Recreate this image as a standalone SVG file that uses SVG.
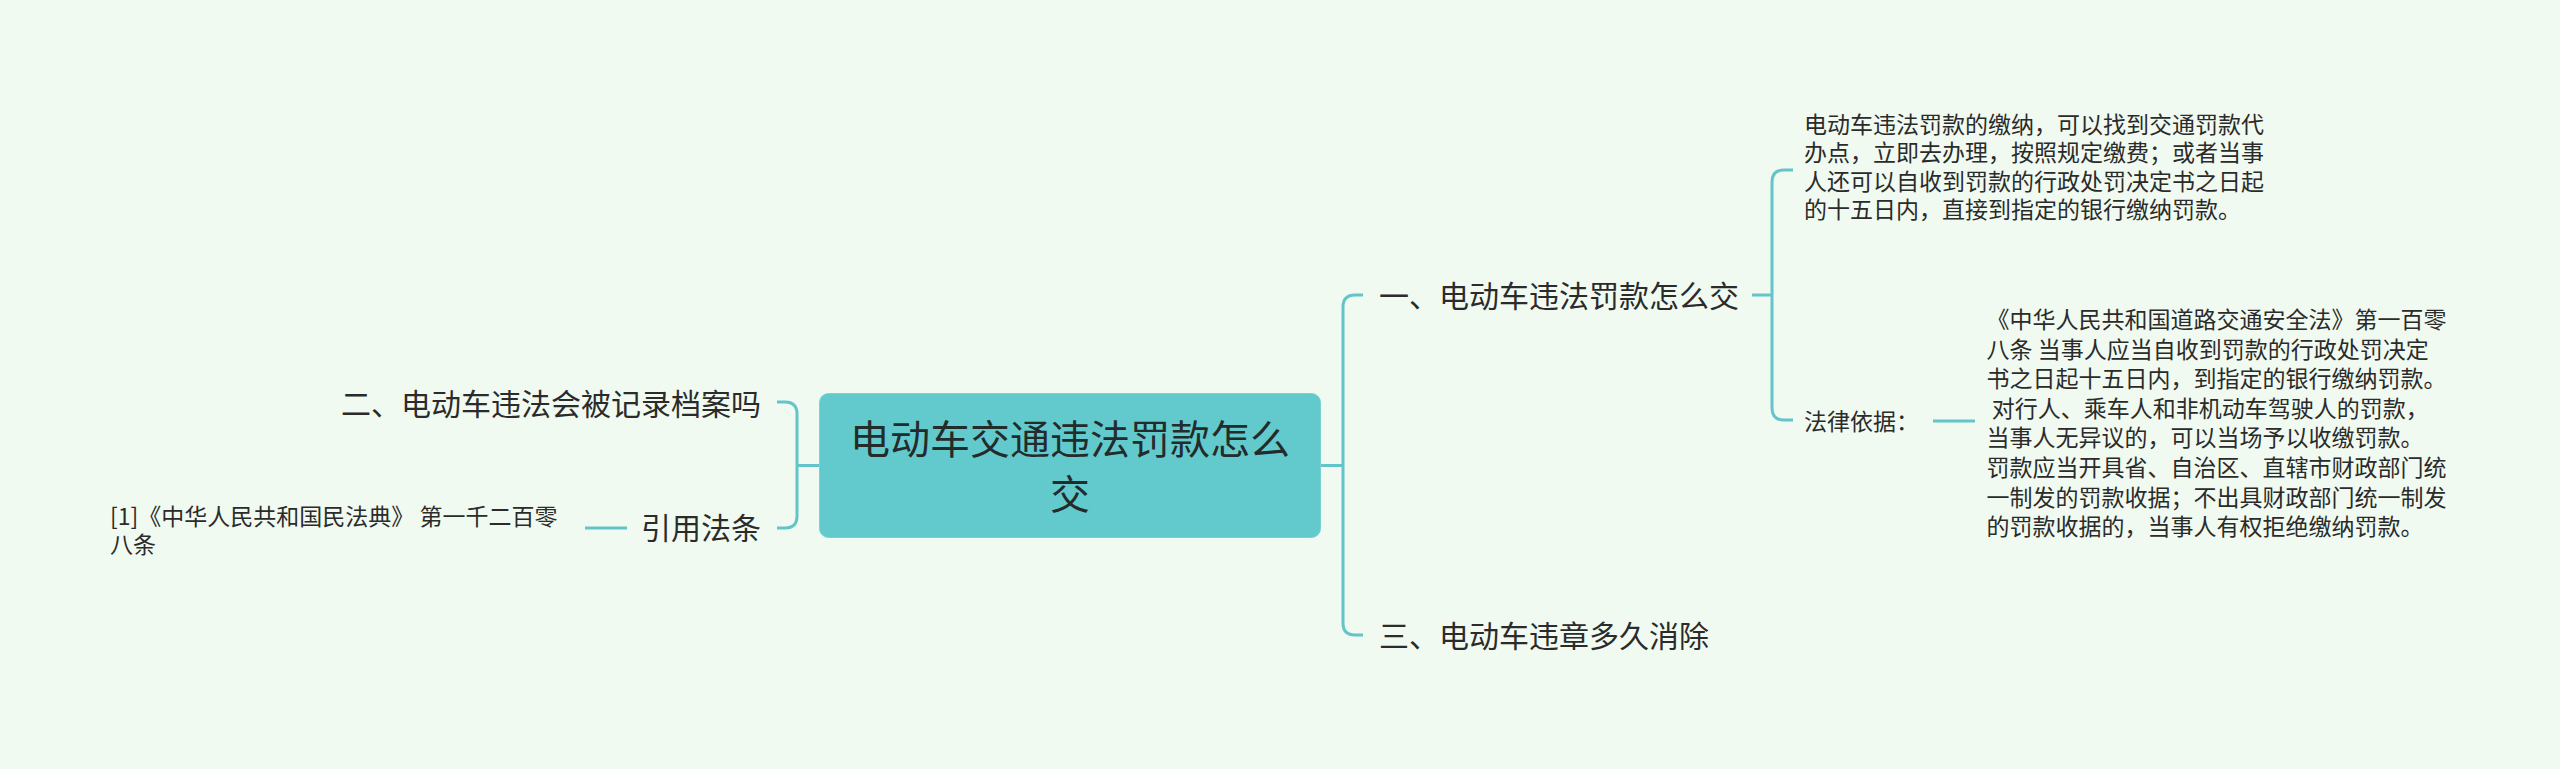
<svg xmlns="http://www.w3.org/2000/svg" width="2560" height="769" viewBox="0 0 2560 769">
<style>
text{font-family:"Noto Sans CJK SC","Noto Sans",sans-serif;fill:#2b2b2b}
.root{font-size:40px;fill:#232b2b;text-anchor:middle}
.l1{font-size:30px}
.end{text-anchor:end}
.d{font-size:23px}
.c{fill:none;stroke:#63C5CA;stroke-width:3;stroke-linecap:butt}
</style>
<rect x="0" y="0" width="2560" height="769" fill="#F0FAF0"/>
<g id="connectors">
<path class="c" d="M819,465.5 H797"/>
<path class="c" d="M777,402 H785 Q797,402 797,414 V516 Q797,528 785,528 H777"/>
<path class="c" d="M585,528 H627"/>
<path class="c" d="M1320,465.5 H1343"/>
<path class="c" d="M1363,295 H1355 Q1343,295 1343,307 V623 Q1343,635 1355,635 H1363"/>
<path class="c" d="M1752,295 H1772"/>
<path class="c" d="M1793,170 H1784 Q1772,170 1772,182 V408 Q1772,420 1784,420 H1793"/>
<path class="c" d="M1933,421 H1975"/>
</g>
<g id="root">
<rect x="819.5" y="393.5" width="501" height="144" rx="9" fill="#62C9CC" stroke="#7AD1D4" stroke-width="1"/>
<text class="root" x="1070" y="454">电动车交通违法罚款怎么</text>
<text class="root" x="1070" y="508.5">交</text>
</g>
<g id="node-record">
<text class="l1 end" x="761" y="414.5">二、电动车违法会被记录档案吗</text>
</g>
<g id="node-cite">
<text class="l1 end" x="761" y="539">引用法条</text>
</g>
<g id="node-cite-detail">
<text class="d" x="110" y="524.5">[1]《中华人民共和国民法典》 第一千二百零</text>
<text class="d" x="110" y="553">八条</text>
</g>
<g id="node-pay">
<text class="l1" x="1379" y="307">一、电动车违法罚款怎么交</text>
</g>
<g id="node-pay-detail">
<text class="d" x="1804" y="132.5">电动车违法罚款的缴纳，可以找到交通罚款代</text>
<text class="d" x="1804" y="161">办点，立即去办理，按照规定缴费；或者当事</text>
<text class="d" x="1804" y="189.5">人还可以自收到罚款的行政处罚决定书之日起</text>
<text class="d" x="1804" y="218">的十五日内，直接到指定的银行缴纳罚款。</text>
</g>
<g id="node-law">
<text class="d" x="1804" y="430.4">法律依据：</text>
</g>
<g id="node-law-detail">
<text class="d" x="1986.5" y="328">《中华人民共和国道路交通安全法》第一百零</text>
<text class="d" x="1986.5" y="357.6">八条 当事人应当自收到罚款的行政处罚决定</text>
<text class="d" x="1986.5" y="387.2">书之日起十五日内，到指定的银行缴纳罚款。</text>
<text class="d" x="1986.5" y="416.8" xml:space="preserve"> 对行人、乘车人和非机动车驾驶人的罚款，</text>
<text class="d" x="1986.5" y="446.4">当事人无异议的，可以当场予以收缴罚款。</text>
<text class="d" x="1986.5" y="476">罚款应当开具省、自治区、直辖市财政部门统</text>
<text class="d" x="1986.5" y="505.6">一制发的罚款收据；不出具财政部门统一制发</text>
<text class="d" x="1986.5" y="535.2">的罚款收据的，当事人有权拒绝缴纳罚款。</text>
</g>
<g id="node-clear">
<text class="l1" x="1379" y="647">三、电动车违章多久消除</text>
</g>
</svg>
